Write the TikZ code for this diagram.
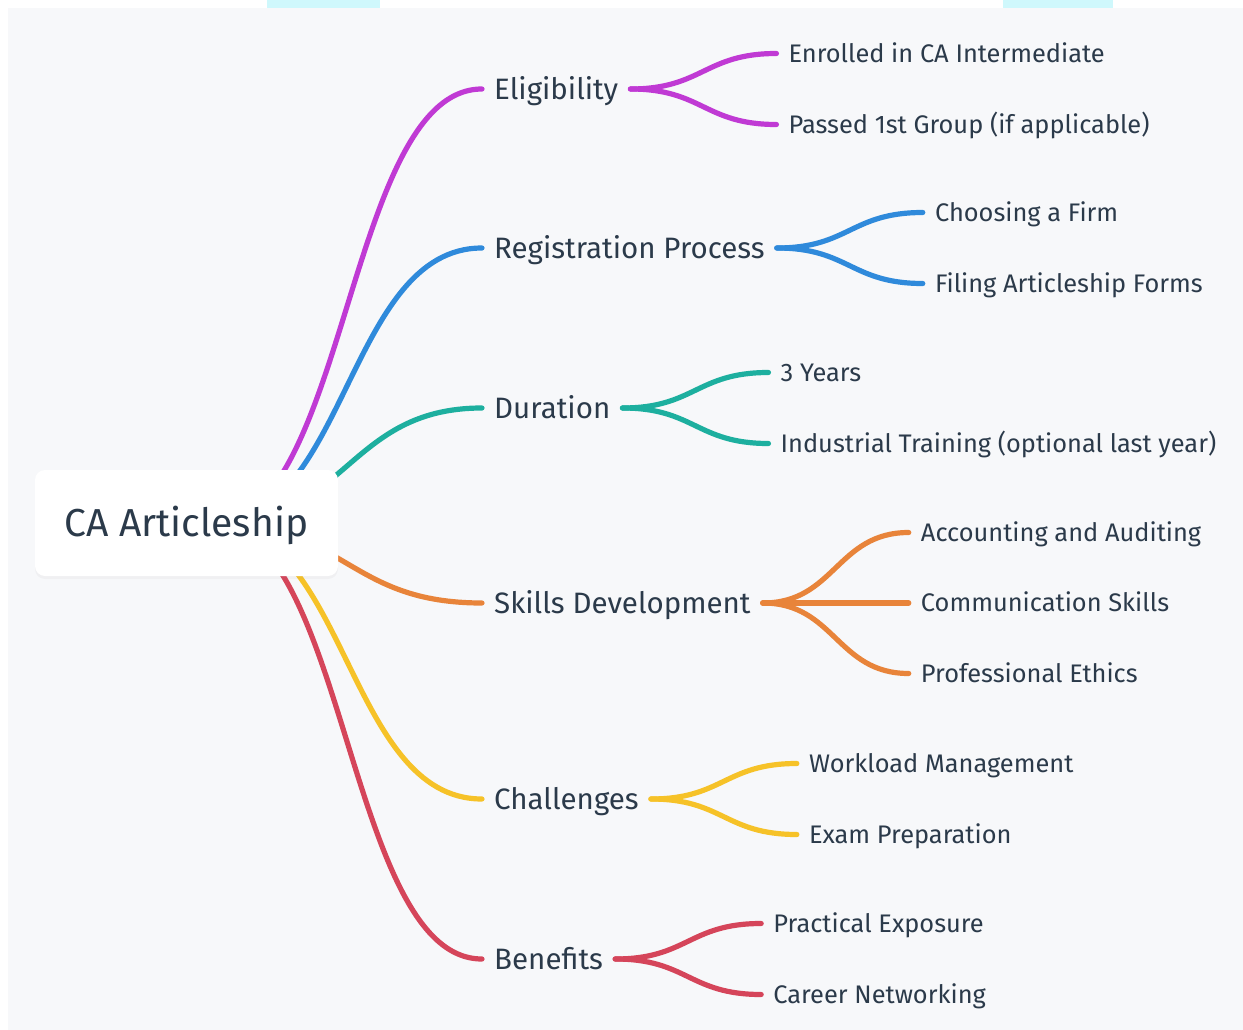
\documentclass[tikz,border=0pt]{standalone}
\usepackage{fontspec}
\setmainfont{Fira Sans}
\usetikzlibrary{positioning,shadows}

\definecolor{ink}{HTML}{2B3A4A}
\definecolor{paper}{HTML}{F7F8FA}
\definecolor{tab}{HTML}{CFF8FC}
\definecolor{cMag}{HTML}{C03AD4}
\definecolor{cBlue}{HTML}{2F8ADB}
\definecolor{cTeal}{HTML}{1DAF9F}
\definecolor{cOrange}{HTML}{E8843A}
\definecolor{cYellow}{HTML}{F6C228}
\definecolor{cRed}{HTML}{D5455A}

\tikzset{
  topic/.style={anchor=west, inner xsep=12pt, inner ysep=0pt, text=ink,
    text height=26.4pt, text depth=6pt, font=\fontsize{29.5}{35}\selectfont},
  leaf/.style={anchor=west, inner xsep=12pt, inner ysep=0pt, text=ink,
    text height=22.4pt, text depth=5pt, font=\fontsize{25.4}{30}\selectfont},
  link/.style={line width=5.2pt, line cap=round},
}

\begin{document}
\begin{tikzpicture}[x=1pt,y=1pt]
\useasboundingbox (0,0) rectangle (1243,-1030);
\fill[paper] (8,-8) rectangle (1243,-1030);
\fill[tab] (267,0) rectangle (380,-8);
\fill[tab] (1003,0) rectangle (1113,-8);

\coordinate (hub) at (212,-524);

% main topics
\node[topic] (elig) at (482,-89) {Eligibility};
\node[topic] (reg) at (482,-248) {Registration Process};
\node[topic] (dur) at (482,-408) {Duration};
\node[topic] (skill) at (482,-603) {Skills Development};
\node[topic] (chal) at (482,-799) {Challenges};
\node[topic] (ben) at (482,-959) {Benefits};

% sub topics
\node[leaf] (elig1) at ([xshift=146pt,yshift=35.5pt]elig.east) {Enrolled in CA Intermediate};
\node[leaf] (elig2) at ([xshift=146pt,yshift=-35.5pt]elig.east) {Passed 1st Group (if applicable)};
\node[leaf] (reg1) at ([xshift=146pt,yshift=35.5pt]reg.east) {Choosing a Firm};
\node[leaf] (reg2) at ([xshift=146pt,yshift=-35.5pt]reg.east) {Filing Articleship Forms};
\node[leaf] (dur1) at ([xshift=146pt,yshift=35.5pt]dur.east) {3 Years};
\node[leaf] (dur2) at ([xshift=146pt,yshift=-35.5pt]dur.east) {Industrial Training (optional last year)};
\node[leaf] (skill1) at ([xshift=146pt,yshift=70.5pt]skill.east) {Accounting and Auditing};
\node[leaf] (skill2) at ([xshift=146pt]skill.east) {Communication Skills};
\node[leaf] (skill3) at ([xshift=146pt,yshift=-70.5pt]skill.east) {Professional Ethics};
\node[leaf] (chal1) at ([xshift=146pt,yshift=35.5pt]chal.east) {Workload Management};
\node[leaf] (chal2) at ([xshift=146pt,yshift=-35.5pt]chal.east) {Exam Preparation};
\node[leaf] (ben1) at ([xshift=146pt,yshift=35.5pt]ben.east) {Practical Exposure};
\node[leaf] (ben2) at ([xshift=146pt,yshift=-35.5pt]ben.east) {Career Networking};

% root to topics
\draw[link, cMag] (hub) .. controls +(135,0) and +(-135,0) .. (elig.west);
\draw[link, cBlue] (hub) .. controls +(135,0) and +(-135,0) .. (reg.west);
\draw[link, cTeal] (hub) .. controls +(135,0) and +(-135,0) .. (dur.west);
\draw[link, cOrange] (hub) .. controls +(135,0) and +(-135,0) .. (skill.west);
\draw[link, cYellow] (hub) .. controls +(135,0) and +(-135,0) .. (chal.west);
\draw[link, cRed] (hub) .. controls +(135,0) and +(-135,0) .. (ben.west);

% topics to sub topics
\draw[link, cMag] (elig.east) .. controls +(72,0) and +(-72,0) .. (elig1.west);
\draw[link, cMag] (elig.east) .. controls +(72,0) and +(-72,0) .. (elig2.west);
\draw[link, cBlue] (reg.east) .. controls +(72,0) and +(-72,0) .. (reg1.west);
\draw[link, cBlue] (reg.east) .. controls +(72,0) and +(-72,0) .. (reg2.west);
\draw[link, cTeal] (dur.east) .. controls +(72,0) and +(-72,0) .. (dur1.west);
\draw[link, cTeal] (dur.east) .. controls +(72,0) and +(-72,0) .. (dur2.west);
\draw[link, cOrange] (skill.east) .. controls +(72,0) and +(-72,0) .. (skill1.west);
\draw[link, cOrange] (skill.east) -- (skill2.west);
\draw[link, cOrange] (skill.east) .. controls +(72,0) and +(-72,0) .. (skill3.west);
\draw[link, cYellow] (chal.east) .. controls +(72,0) and +(-72,0) .. (chal1.west);
\draw[link, cYellow] (chal.east) .. controls +(72,0) and +(-72,0) .. (chal2.west);
\draw[link, cRed] (ben.east) .. controls +(72,0) and +(-72,0) .. (ben1.west);
\draw[link, cRed] (ben.east) .. controls +(72,0) and +(-72,0) .. (ben2.west);

% root
\node[fill=white, rounded corners=10pt, minimum width=303pt, minimum height=106pt,
  text=ink, text height=34.8pt, text depth=8pt, font=\fontsize{39}{46}\selectfont,
  drop shadow={opacity=0.06, shadow xshift=0pt, shadow yshift=-3pt}]
  (root) at (186.5,-523) {CA Articleship};
\end{tikzpicture}
\end{document}
